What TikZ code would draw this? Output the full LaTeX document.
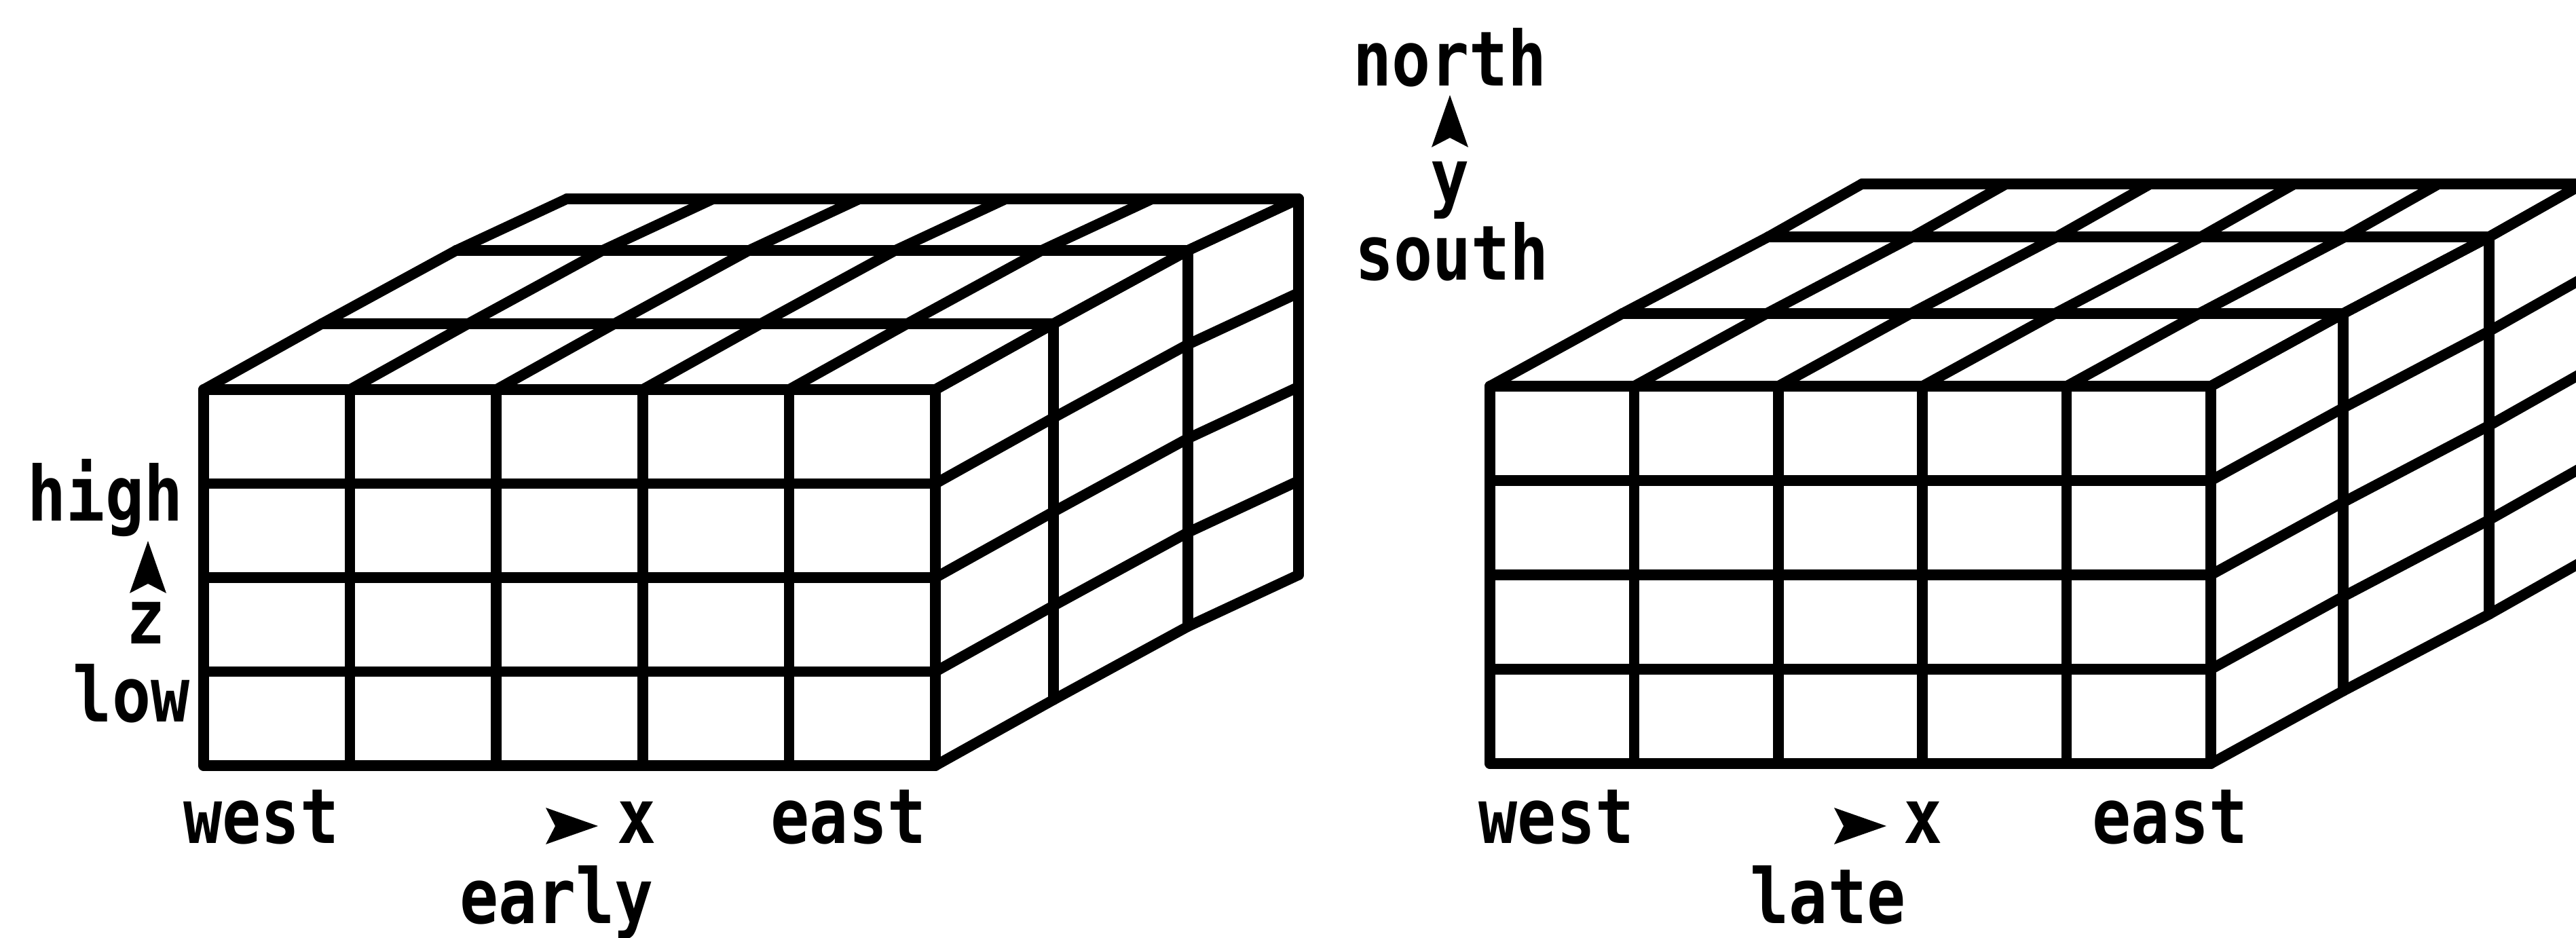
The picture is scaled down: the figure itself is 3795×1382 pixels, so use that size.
\documentclass[tikz,border=0pt]{standalone}
\usepackage{fontspec}
\setmonofont{DejaVu Sans Mono}
\usepackage{graphicx}
\usepackage{tikz}
\usetikzlibrary{positioning}

% typewriter labels are a bit taller than DejaVu
\newcommand{\tall}[1]{\scalebox{1}[1.18]{#1}}

\tikzset{
  grid line/.style={line width=1.55mm, line join=round, line cap=round},
  axis label/.style={font=\ttfamily\bfseries\fontsize{27}{30}\selectfont, inner sep=0pt},
  axhead/.pic={\fill (0,0) -- (-77,-27) -- (-63,0) -- (-77,27) -- cycle;}
}

\begin{document}
\begin{tikzpicture}[x=0.1mm, y=-0.1mm]
  \useasboundingbox (0,0) rectangle (3795,1382);
  \begin{scope}
  \clip (0,0) rectangle (3795,1382);
  % two cubes: origin, cell width/height, offsets of depth layers 1..3
  \foreach \ox/\oy/\cw/\ch/\ax/\ay/\bx/\by/\cx/\cy in
    {300/1128/215.6/138.5/174/-97/372/-205/535/-281,
     2195/1125/212.4/139/195/-107/410/-220/548/-298}{
    \begin{scope}[shift={(\ox,\oy)}, grid line]
      % front face
      \foreach \i in {0,...,5} \draw ({\i*\cw},0) -- ({\i*\cw},{-4*\ch});
      \foreach \j in {0,...,4} \draw (0,{-\j*\ch}) -- ({5*\cw},{-\j*\ch});
      % top face
      \foreach \i in {0,...,5}
        \draw ({\i*\cw},{-4*\ch}) -- ++(\ax,\ay) -- ++({\bx-\ax},{\by-\ay}) -- ++({\cx-\bx},{\cy-\by});
      \foreach \dx/\dy in {\ax/\ay,\bx/\by,\cx/\cy}
        \draw ({\dx},{-4*\ch+\dy}) -- ({5*\cw+\dx},{-4*\ch+\dy});
      % right face
      \foreach \j in {0,...,4}
        \draw ({5*\cw},{-\j*\ch}) -- ++(\ax,\ay) -- ++({\bx-\ax},{\by-\ay}) -- ++({\cx-\bx},{\cy-\by});
      \foreach \dx/\dy in {\ax/\ay,\bx/\by,\cx/\cy}
        \draw ({5*\cw+\dx},{\dy}) -- ({5*\cw+\dx},{-4*\ch+\dy});
    \end{scope}
  }
  \end{scope}

  % z axis
  \node[axis label, anchor=base east] (high) at (270,767)  {\tall{high}};
  \pic[rotate=90] at (218,797) {axhead};
  \node[axis label, anchor=base]      (zax)  at (215,948)  {\tall{z}};
  \node[axis label, anchor=base east] (low)  at (280,1063) {\tall{low}};

  % y axis
  \node[axis label, anchor=base] (north) at (2136,127) {\tall{north}};
  \pic[rotate=90] at (2136,140) {axhead};
  \node[axis label, anchor=base] (yax)   at (2136,300) {\tall{y}};
  \node[axis label, anchor=base] (south) at (2139,413) {\tall{south}};

  % x axis, early
  \node[axis label, anchor=base] (westA) at (385,1242)  {\tall{west}};
  \pic at (881,1217) {axhead};
  \node[axis label, anchor=base] (xaxA)  at (938,1242)  {\tall{x}};
  \node[axis label, anchor=base] (eastA) at (1250,1242) {\tall{east}};
  \node[axis label, anchor=base] (early) at (820,1360)  {\tall{early}};

  % x axis, late
  \node[axis label, anchor=base] (westB) at (2293,1242) {\tall{west}};
  \pic at (2779,1217) {axhead};
  \node[axis label, anchor=base] (xaxB)  at (2833,1242) {\tall{x}};
  \node[axis label, anchor=base] (eastB) at (3197,1242) {\tall{east}};
  \node[axis label, anchor=base] (late)  at (2693,1360) {\tall{late}};
\end{tikzpicture}
\end{document}
